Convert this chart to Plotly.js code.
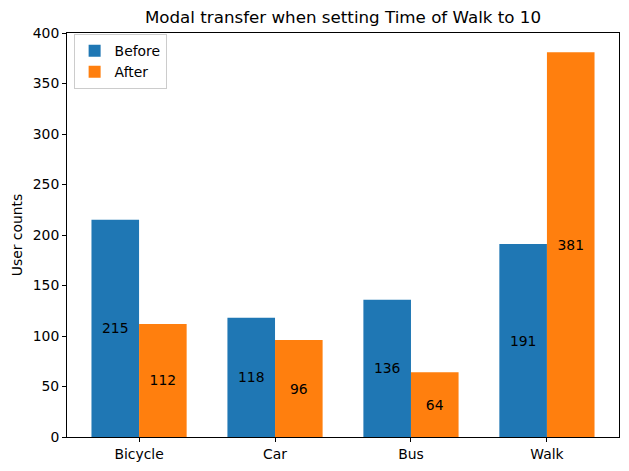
<!DOCTYPE html>
<html>
<head>
<meta charset="utf-8">
<script src="https://cdn.plot.ly/plotly-3.0.1.min.js"></script>
<style>html,body{margin:0;padding:0;background:#fff;}#chart{width:629px;height:471px;}</style>
</head>
<body>
<div id="chart"></div>
<script>
const categories = ["Bicycle", "Car", "Bus", "Walk"];
const beforeValues = [215, 118, 136, 191];
const afterValues = [112, 96, 64, 381];
const seriesNames = ["Before", "After"];
const yTicks = [0, 50, 100, 150, 200, 250, 300, 350, 400];

const font = "DejaVu Sans, sans-serif";
function barTrace(name, vals, color) {
  return {
    type: "bar", name: name, x: categories, y: vals,
    marker: {color: color, line: {width: 0}},
    text: vals.map(String), textposition: "inside", insidetextanchor: "middle",
    textangle: 0, constraintext: "none",
    textfont: {family: font, size: 13.9, color: "#000"},
    hoverinfo: "none"
  };
}
const data = [
  barTrace(seriesNames[0], beforeValues, "#1f77b4"),
  barTrace(seriesNames[1], afterValues, "#ff7f0e")
];
const axisCommon = {
  showline: true, linecolor: "#000", linewidth: 1, mirror: true,
  ticks: "outside", ticklen: 4, tickwidth: 1, tickcolor: "#000",
  showgrid: false, zeroline: false,
  tickfont: {family: font, size: 13.9, color: "#000"}
};
const layout = {
  width: 629, height: 471,
  margin: {l: 67, r: 10, t: 33, b: 34},
  paper_bgcolor: "#fff", plot_bgcolor: "#fff",
  barmode: "group", bargap: 0.3, bargroupgap: 0,
  title: {text: "Modal transfer when setting Time of Walk to 10", font: {family: font, size: 16.7, color: "#000"},
          x: (67 + 619) / 2 / 629, xanchor: "center", y: 1 - 17 / 471, yanchor: "middle"},
  xaxis: Object.assign({}, axisCommon, {type: "category", range: [-0.53, 3.53]}),
  yaxis: Object.assign({}, axisCommon, {range: [0, 400], tickvals: yTicks, ticktext: yTicks.map(String),
    title: {text: "User counts", font: {family: font, size: 13.9, color: "#000"}, standoff: 6}}),
  showlegend: true,
  legend: {x: 0.012, y: 0.997, xanchor: "left", yanchor: "top", bgcolor: "rgba(255,255,255,0.8)",
    bordercolor: "#ccc", borderwidth: 1, font: {family: font, size: 13.9, color: "#000"}, traceorder: "normal"},
  font: {family: font}
};
Plotly.newPlot("chart", data, layout, {staticPlot: true, displayModeBar: false});
</script>
</body>
</html>
